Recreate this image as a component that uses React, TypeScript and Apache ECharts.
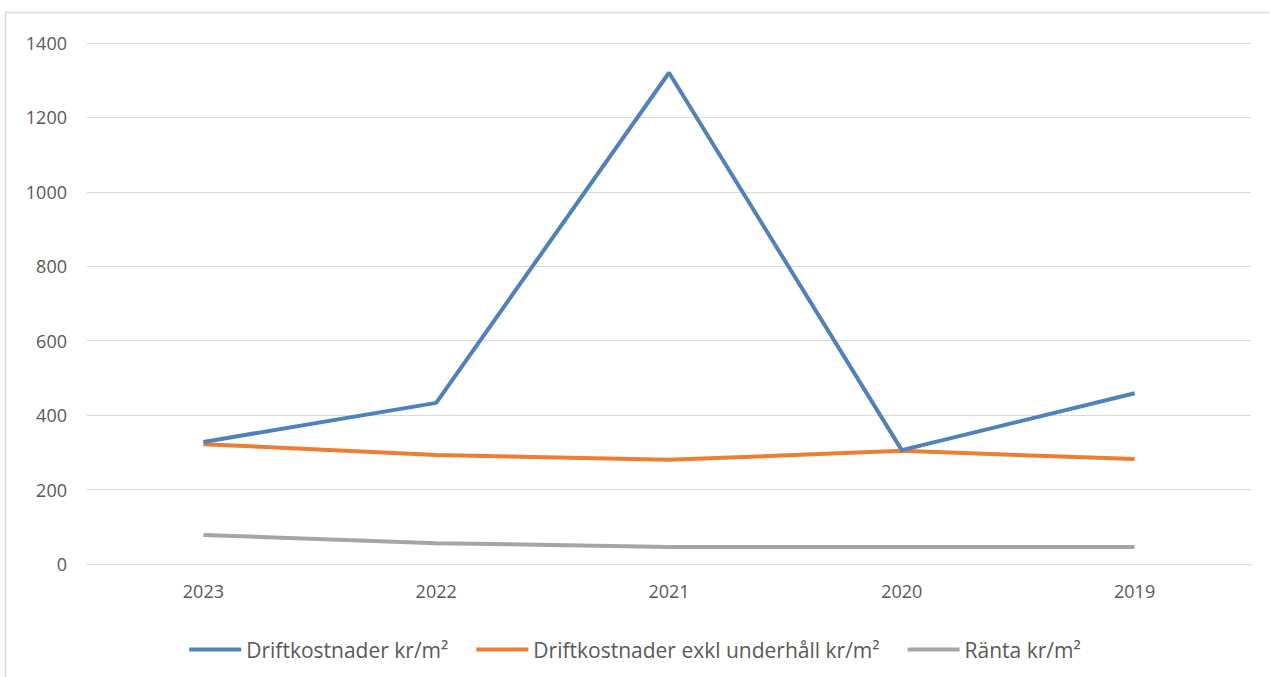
import React, { useEffect, useRef } from "react";
import * as echarts from "echarts";

const categories = ["2023", "2022", "2021", "2020", "2019"];
const driftkostnader = [328, 433, 1320, 306, 459];
const driftExklUnderhall = [322, 293, 280, 304, 282];
const ranta = [78, 56, 46, 46, 46];
const seriesNames = [
  "Driftkostnader kr/m²",
  "Driftkostnader exkl underhåll kr/m²",
  "Ränta kr/m²",
];
const colors = ["#4F81BD", "#ED7D31", "#A5A5A5"];

export default function App() {
  const ref = useRef<HTMLDivElement>(null);
  useEffect(() => {
    if (!ref.current) return;
    const chart = echarts.init(ref.current, undefined, { renderer: "svg" });
    const font = "'Open Sans', sans-serif";
    chart.setOption({
      animation: false,
      backgroundColor: "#ffffff",
      textStyle: { fontFamily: font },
      graphic: [
        { type: "line", shape: { x1: 5, y1: 12.5, x2: 1269, y2: 12.5 }, style: { stroke: "#d9d9d9", lineWidth: 1.5 } },
        { type: "line", shape: { x1: 5.5, y1: 12, x2: 5.5, y2: 677 }, style: { stroke: "#d9d9d9", lineWidth: 1.5 } },
      ],
      grid: { left: 87, right: 19, top: 43, bottom: 113, containLabel: false },
      legend: {
        bottom: 12,
        left: "center",
        icon: "rect",
        itemWidth: 52,
        itemHeight: 4,
        itemGap: 28,
        textStyle: { color: "#595959", fontSize: 21, fontFamily: font },
        data: seriesNames,
      },
      xAxis: {
        type: "category",
        data: categories,
        boundaryGap: true,
        axisLine: { show: true, lineStyle: { color: "#d9d9d9", width: 1 } },
        axisTick: { show: false },
        axisLabel: { color: "#595959", fontSize: 18, margin: 18, fontFamily: font },
      },
      yAxis: {
        type: "value",
        min: 0,
        max: 1400,
        interval: 200,
        axisLine: { show: false },
        axisTick: { show: false },
        axisLabel: { color: "#595959", fontSize: 18, margin: 20, fontFamily: font, formatter: (v: number) => String(v) },
        splitLine: { lineStyle: { color: "#d9d9d9", width: 1 } },
      },
      series: [
        { name: seriesNames[0], type: "line", data: driftkostnader, symbol: "none", lineStyle: { width: 4, color: colors[0] }, itemStyle: { color: colors[0] }, z: 3 },
        { name: seriesNames[1], type: "line", data: driftExklUnderhall, symbol: "none", lineStyle: { width: 4, color: colors[1] }, itemStyle: { color: colors[1] }, z: 2 },
        { name: seriesNames[2], type: "line", data: ranta, symbol: "none", lineStyle: { width: 4, color: colors[2] }, itemStyle: { color: colors[2] }, z: 1 },
      ],
    });
    return () => chart.dispose();
  }, []);
  return (
    <div
      ref={ref}
      style={{ position: "absolute", left: 0, top: 0, width: 1270, height: 677 }}
    />
  );
}
